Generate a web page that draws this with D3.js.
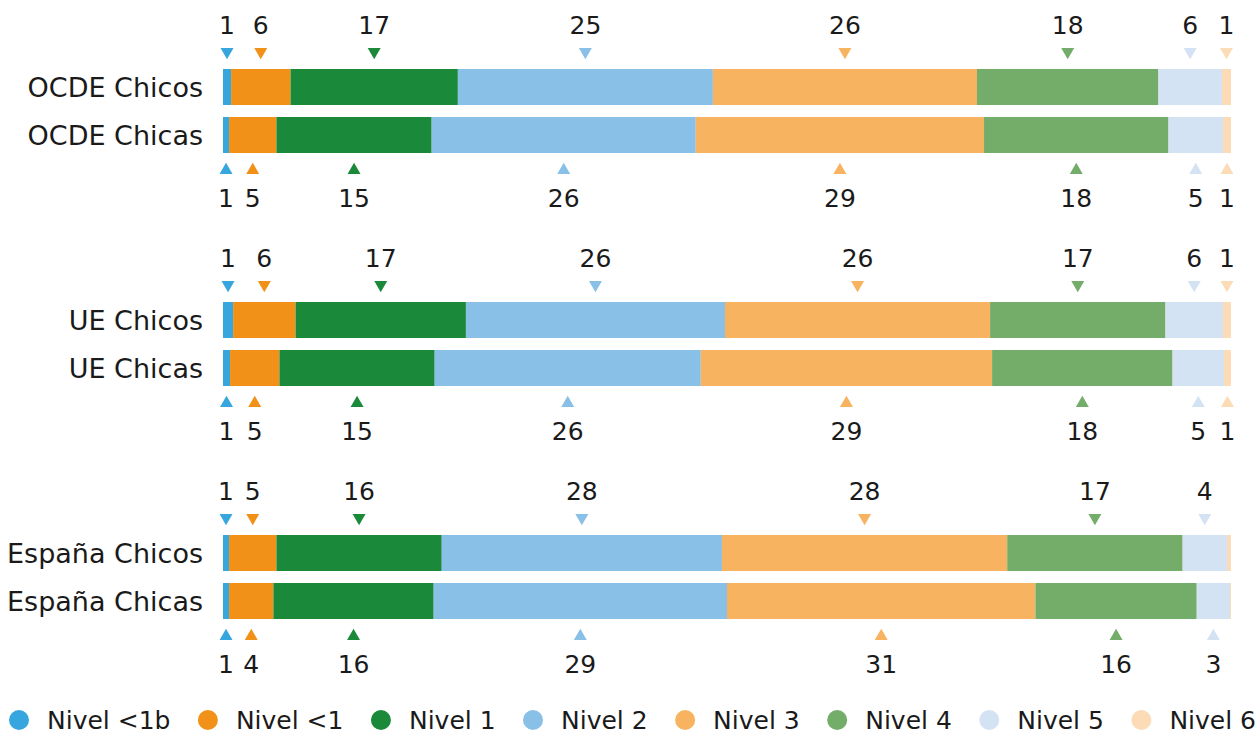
<html>
<head>
<style>
  body { margin: 0; background: #fff; }
  text { font-family: "DejaVu Sans", sans-serif; fill: #1a1a1a; }
</style>
</head>
<body>
<script src="https://d3js.org/d3.v7.min.js"></script>
<script>
// levels and their colours
var levels = ["Nivel <1b", "Nivel <1", "Nivel 1", "Nivel 2", "Nivel 3", "Nivel 4", "Nivel 5", "Nivel 6"];
var colors = ["#38a6de", "#f19118", "#1a8a3a", "#89c0e8", "#f7b360", "#74ac6a", "#d3e3f4", "#fcdcb6"];

// row names (two rows per group)
var rowNames = ["OCDE Chicos", "OCDE Chicas", "UE Chicos", "UE Chicas", "España Chicos", "España Chicas"];

// percentages
var ocdeChicos   = [0.8, 5.9, 16.6, 25.3, 26.2, 18.0, 6.3, 0.9];
var ocdeChicas   = [0.6, 4.7, 15.4, 26.2, 28.6, 18.3, 5.4, 0.8];
var ueChicos     = [1.0, 6.2, 16.9, 25.7, 26.3, 17.4, 5.7, 0.8];
var ueChicas     = [0.7, 4.9, 15.4, 26.4, 28.9, 17.9, 5.1, 0.7];
var espanaChicos = [0.6, 4.7, 16.4, 27.8, 28.3, 17.4, 4.4, 0.4];
var espanaChicas = [0.6, 4.4, 15.9, 29.1, 30.6, 16.0, 3.3, 0.1];

var rowValues = [ocdeChicos, ocdeChicas, ueChicos, ueChicas, espanaChicos, espanaChicas];

var width = 1260, height = 734;
var barH = 36, barGap = 12, groupStep = 233, firstTop = 69;

var svg = d3.select("body").append("svg")
    .attr("width", width)
    .attr("height", height);

var x = d3.scaleLinear().domain([0, 100]).range([223, 1231]);

// build stacked segments for each row
var rows = rowNames.map(function(name, i) {
    var acc = 0;
    var segs = rowValues[i].map(function(v, j) {
        var s = {level: j, x0: acc, x1: acc + v, value: v};
        acc += v;
        return s;
    });
    var g = Math.floor(i / 2);
    var top = firstTop + g * groupStep + (i % 2) * (barH + barGap);
    return {name: name, segs: segs, top: top, upper: i % 2 === 0};
});

var tri = d3.symbol().type(d3.symbolTriangle).size(73);

rows.forEach(function(r) {
    var g = svg.append("g");

    g.selectAll("rect").data(r.segs).enter().append("rect")
        .attr("x", function(d) { return x(d.x0); })
        .attr("y", r.top)
        .attr("width", function(d) { return x(d.x1) - x(d.x0); })
        .attr("height", barH)
        .attr("fill", function(d) { return colors[d.level]; });

    g.append("text")
        .attr("x", 203)
        .attr("y", r.top + barH / 2)
        .attr("text-anchor", "end")
        .attr("dominant-baseline", "central")
        .style("font-size", "27px")
        .text(r.name);

    var shown = r.segs.filter(function(d) { return Math.round(d.value) > 0; });

    var marks = g.selectAll(".mark").data(shown).enter().append("g")
        .attr("class", "mark")
        .attr("transform", function(d) {
            return "translate(" + x((d.x0 + d.x1) / 2) + ",0)";
        });

    marks.append("path")
        .attr("d", tri)
        .attr("fill", function(d) { return colors[d.level]; })
        .attr("transform", r.upper
            ? "translate(0," + (r.top - 17.2) + ") rotate(180)"
            : "translate(0," + (r.top + barH + 17.2) + ")");

    marks.append("text")
        .attr("y", r.upper ? r.top - 35 : r.top + barH + 54)
        .attr("text-anchor", "middle")
        .style("font-size", "25px")
        .text(function(d) { return Math.round(d.value); });
});

// legend, spread across the width
var legend = svg.append("g").attr("transform", "translate(0,720)");
var items = legend.selectAll("g").data(levels).enter().append("g");
items.append("circle").attr("r", 10).attr("fill", function(d, i) { return colors[i]; });
items.append("text")
    .attr("x", 28)
    .attr("dominant-baseline", "central")
    .style("font-size", "25px")
    .text(function(d) { return d; });

var widths = [];
items.select("text").each(function() { widths.push(this.getComputedTextLength()); });
var startX = 19, endX = 1256;
var gap = (endX - startX - levels.length * 28 - d3.sum(widths)) / (levels.length - 1);
var cx = startX;
items.each(function(d, i) {
    d3.select(this).attr("transform", "translate(" + cx + ",0)");
    cx += 28 + widths[i] + gap;
});
</script>
</body>
</html>
